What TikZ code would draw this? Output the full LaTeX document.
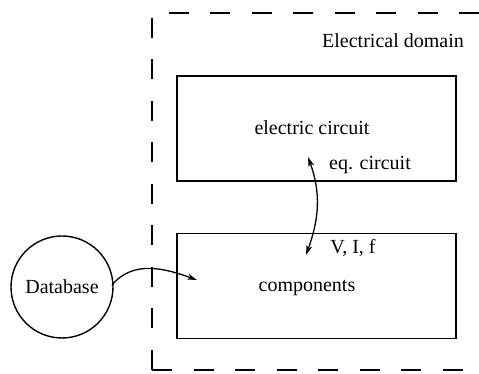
\documentclass[tikz,border=0pt]{standalone}
\usepackage{fontspec}
\setmainfont{Liberation Serif}
\usetikzlibrary{arrows.meta,positioning}

\begin{document}
\begin{tikzpicture}[>={Stealth[length=10pt,width=6pt]},x=1pt,y=1pt,
  font=\fontsize{20}{24}\selectfont,
  box/.style={draw,line width=1.4pt,minimum width=279pt,minimum height=105pt,inner sep=0pt},
  dbcircle/.style={draw,circle,line width=1.4pt,minimum size=102pt,inner sep=0pt},
  domainline/.style={line width=1.4pt,dash pattern=on 20pt off 21.5pt},
  link/.style={line width=1.3pt}]
\clip (0,0) rectangle (479,374);
\draw[domainline] (152,4) -- (152,361) -- (500,361);
\draw[domainline] (152,4) -- (500,4);
\node (domain) at (393,333) {Electrical domain};
\node[box] (circuit) at (316.5,245.5) {};
\node (circuittxt) at (312,246) {electric circuit};
\node (eqtxt) at (370,209) {eq. circuit};
\node[box] (parts) at (316.5,88) {};
\node (partstxt) at (307,86) {components};
\node (vif) at (353,126) {V, I, f};
\node[dbcircle] (db) at (62,87) {Database};
\coordinate (circuitend) at (308,217);
\coordinate (partsend) at (306,119);
\coordinate (dbout) at (112,89);
\coordinate (partsin) at (197,94);
\draw[link,<->] (circuitend) to[out=-70,in=70] (partsend);
\draw[link,->] (dbout) to[out=50,in=160] (partsin);
\end{tikzpicture}
\end{document}
